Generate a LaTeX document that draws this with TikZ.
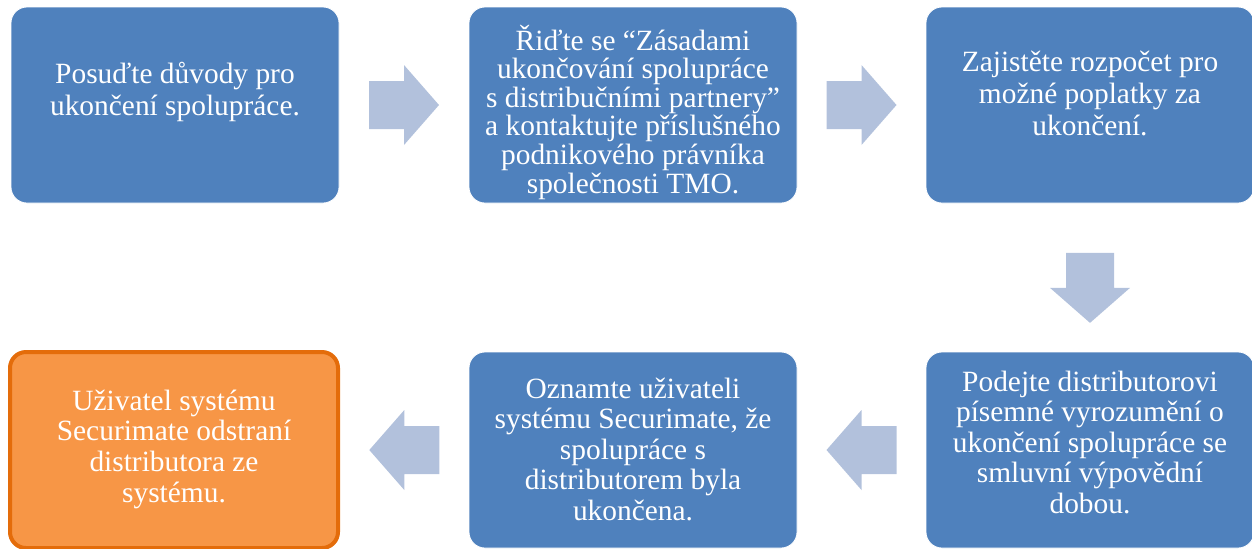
\documentclass[tikz,border=0pt]{standalone}
\usepackage{fontspec}
\setmainfont{Liberation Serif}
\usetikzlibrary{calc}
\definecolor{boxblue}{HTML}{4F81BD}
\definecolor{arrowgray}{HTML}{B2C1DC}
\definecolor{boxorange}{HTML}{F79646}
\definecolor{lineorange}{HTML}{E46C0A}
\tikzset{
 stepbox/.style={rounded corners=8pt,fill=boxblue,draw=white,thin,text=white,
  minimum width=164pt,minimum height=98pt,align=center,inner sep=0pt,text depth=0pt},
 laststep/.style={stepbox,fill=boxorange,draw=lineorange,line width=2pt},
 flowarrow/.pic={\fill[arrowgray](-35,-24)--(0,-24)--(0,-40)--(35,0)--(0,40)--(0,24)--(-35,24)--cycle;}
}
\begin{document}
\begin{tikzpicture}[x=0.5pt,y=-0.5pt]
 \useasboundingbox (0,0) rectangle (1252,548);
 \node[stepbox,text height=20pt,text depth=10pt,font=\fontsize{14.7}{16}\selectfont] (duvody) at (175,105)
  {Posuďte důvody pro\\ukončení spolupráce.};
 \node[stepbox,text height=88pt,font=\fontsize{14.7}{14.3}\selectfont] (zasady) at (633,105)
  {Řiďte se “Zásadami\\ukončování spolupráce\\s distribučními partnery”\\a kontaktujte příslušného\\podnikového právníka\\společnosti TMO.};
 \node[stepbox,text height=30pt,font=\fontsize{14.7}{16}\selectfont] (rozpocet) at (1090,105)
  {Zajistěte rozpočet pro\\možné poplatky za\\ukončení.};
 \node[stepbox,text height=63pt,font=\fontsize{14.7}{15.2}\selectfont] (vyrozumeni) at (1090,450)
  {Podejte distributorovi\\písemné vyrozumění o\\ukončení spolupráce se\\smluvní výpovědní\\dobou.};
 \node[stepbox,text height=70pt,font=\fontsize{14.7}{15.2}\selectfont] (oznameni) at (633,450)
  {Oznamte uživateli\\systému Securimate, že\\spolupráce s\\distributorem byla\\ukončena.};
 \node[laststep,text height=52pt,font=\fontsize{14.7}{15.3}\selectfont] (odstraneni) at (174,450)
  {Uživatel systému\\Securimate odstraní\\distributora ze\\systému.};
 % block arrows between the steps
 \pic at ($(duvody.east)!0.5!(zasady.west)$) {flowarrow};
 \pic at ($(zasady.east)!0.5!(rozpocet.west)$) {flowarrow};
 \pic[rotate=-90] at ($(rozpocet.south)!0.57!(vyrozumeni.north)$) {flowarrow};
 \pic[rotate=180] at ($(vyrozumeni.west)!0.5!(oznameni.east)$) {flowarrow};
 \pic[rotate=180] at ($(oznameni.west)!0.5!(odstraneni.east)$) {flowarrow};
\end{tikzpicture}
\end{document}
